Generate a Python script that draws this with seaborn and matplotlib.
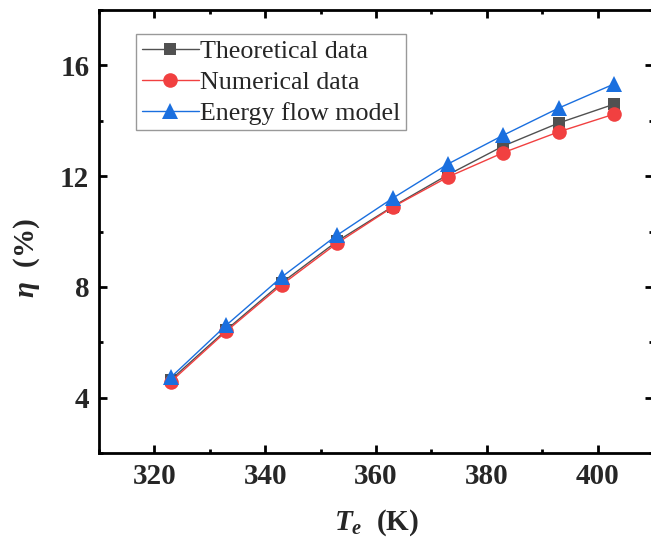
import matplotlib
matplotlib.use("Agg")
import matplotlib.pyplot as plt
import pandas as pd
import seaborn as sns
from matplotlib.ticker import MultipleLocator

te = [323, 333, 343, 353, 363, 373, 383, 393, 403]
theoretical = [4.65, 6.45, 8.15, 9.65, 10.9, 12.05, 13.09, 13.92, 14.6]
numerical = [4.58, 6.4, 8.08, 9.58, 10.88, 11.97, 12.85, 13.6, 14.24]
energy_flow = [4.74, 6.62, 8.36, 9.87, 11.2, 12.44, 13.48, 14.46, 15.33]

series = ["Theoretical data", "Numerical data", "Energy flow model"]
colors = ["#515151", "#F14040", "#1A6FDF"]
markers = ["s", "o", "^"]
msizes = [9, 10.5, 11.5]


def main():
    sns.set_style("ticks")
    plt.rcParams["font.family"] = ["Liberation Serif", "DejaVu Serif"]
    plt.rcParams["mathtext.fontset"] = "custom"
    plt.rcParams["mathtext.it"] = "Liberation Serif:italic:bold"
    plt.rcParams["mathtext.rm"] = "Liberation Serif:bold"
    plt.rcParams["mathtext.bf"] = "Liberation Serif:bold"

    df = pd.DataFrame({
        "Te": te * 3,
        "eta": theoretical + numerical + energy_flow,
        "kind": [s for s in series for _ in te],
    })

    fig = plt.figure(figsize=(6.51, 5.39), dpi=100)
    ax = fig.add_axes([99 / 651, 86 / 539, 554 / 651, 443 / 539])

    for name, c, m, ms in zip(series, colors, markers, msizes):
        sns.lineplot(
            data=df[df["kind"] == name], x="Te", y="eta", ax=ax,
            color=c, marker=m, markersize=ms, markeredgewidth=0,
            linewidth=1.0, label=name,
        )

    ax.set_xlim(310, 410)
    ax.set_ylim(2, 18)
    ax.xaxis.set_major_locator(MultipleLocator(20))
    ax.xaxis.set_minor_locator(MultipleLocator(10))
    ax.yaxis.set_major_locator(MultipleLocator(4))
    ax.yaxis.set_minor_locator(MultipleLocator(2))

    for sp in ax.spines.values():
        sp.set_visible(True)
        sp.set_linewidth(2.0)
        sp.set_color("black")
    ax.tick_params(which="both", direction="in", top=True, right=True,
                   width=2.0, color="black")
    ax.tick_params(which="major", length=5.5, pad=7)
    ax.tick_params(which="minor", length=3)
    for lab in ax.get_xticklabels() + ax.get_yticklabels():
        lab.set_fontsize(21)
        lab.set_fontweight("bold")

    ax.set_xlabel(r"$T_e$  (K)", fontsize=21, fontweight="bold", labelpad=13)
    ax.set_ylabel(r"$\eta$  (%)", fontsize=21, fontweight="bold")
    ax.yaxis.set_label_coords(-0.103, 0.44)

    leg = ax.legend(
        loc="upper left", bbox_to_anchor=(0.067, 0.946), borderaxespad=0,
        fontsize=18.7, frameon=True, fancybox=False, borderpad=0.22,
        labelspacing=0.3, handlelength=2.2, handletextpad=0.05,
    )
    leg.get_frame().set_edgecolor("#808080")
    leg.get_frame().set_linewidth(1.0)

    fig.savefig("out.png", dpi=100)


if __name__ == "__main__":
    main()
